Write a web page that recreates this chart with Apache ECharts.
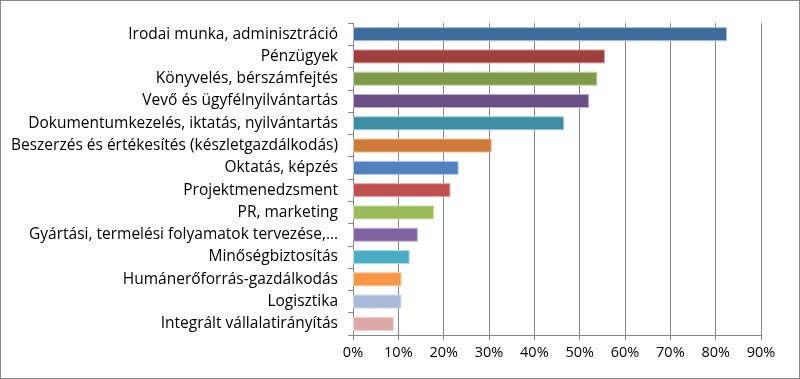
<!DOCTYPE html>
<html><head><meta charset="utf-8">
<script src="https://cdn.jsdelivr.net/npm/echarts@6/dist/echarts.min.js"></script>
<style>
html,body{margin:0;padding:0;background:#fff;}
#c{position:absolute;left:0;top:0;width:798px;height:377px;border:1px solid #8a8a8a;}
</style></head><body>
<div id="c"></div>
<script>
const categories = [
  "Irodai munka, adminisztráció",
  "Pénzügyek",
  "Könyvelés, bérszámfejtés",
  "Vevő és ügyfélnyilvántartás",
  "Dokumentumkezelés, iktatás, nyilvántartás",
  "Beszerzés és értékesítés (készletgazdálkodás)",
  "Oktatás, képzés",
  "Projektmenedzsment",
  "PR, marketing",
  "Gyártási, termelési folyamatok tervezése,…",
  "Minőségbiztosítás",
  "Humánerőforrás-gazdálkodás",
  "Logisztika",
  "Integrált vállalatirányítás"
];
const values = [82.5, 55.6, 53.9, 52.1, 46.6, 30.6, 23.3, 21.5, 17.9, 14.3, 12.5, 10.7, 10.7, 9.0];
const colors = ["#3F6A9E","#A0403E","#7F9A48","#6A5086","#3D8DA3","#CD7B36","#4F81BD","#C0504D","#9BBB59","#8064A2","#4BACC6","#F79646","#A9BADB","#DDA8A8"];
const borders = ["#A9BEDC","#D9A9A8","#C5D5A8","#BEB0CF","#A9D3DE","#EFC29C","#B7CCE6","#E3B1B0","#CFE0AE","#C2B4D6","#B1DCE7","#FBCBA3","#D3DCEC","#EED3D3"];
const xTicks = [0,10,20,30,40,50,60,70,80,90];

const chart = echarts.init(document.getElementById('c'), null, {renderer:'canvas'});
chart.setOption({
  animation:false,
  grid:{left:352, right:38, top:22, bottom:43},
  xAxis:{
    type:'value', min:0, max:90, interval:10,
    axisLine:{show:true, lineStyle:{color:'#868686', width:1}},
    axisTick:{show:true, length:5, lineStyle:{color:'#868686'}},
    splitLine:{show:true, lineStyle:{color:'#868686', width:1}},
    axisLabel:{formatter:v=>v+'%', color:'#000', fontFamily:'Open Sans', fontSize:14.5, margin:10}
  },
  yAxis:{
    type:'category', data:categories, inverse:true,
    axisLine:{show:true, lineStyle:{color:'#868686', width:1}},
    axisTick:{show:true, length:5, lineStyle:{color:'#868686'}},
    axisLabel:{color:'#000', fontFamily:'Open Sans', fontSize:15.5, margin:15}
  },
  series:[{
    type:'bar',
    data:values.map((v,i)=>({value:v, itemStyle:{color:colors[i], borderColor:borders[i], borderWidth:1}})),
    barCategoryGap:'37%'
  }]
});
</script>
</body></html>
